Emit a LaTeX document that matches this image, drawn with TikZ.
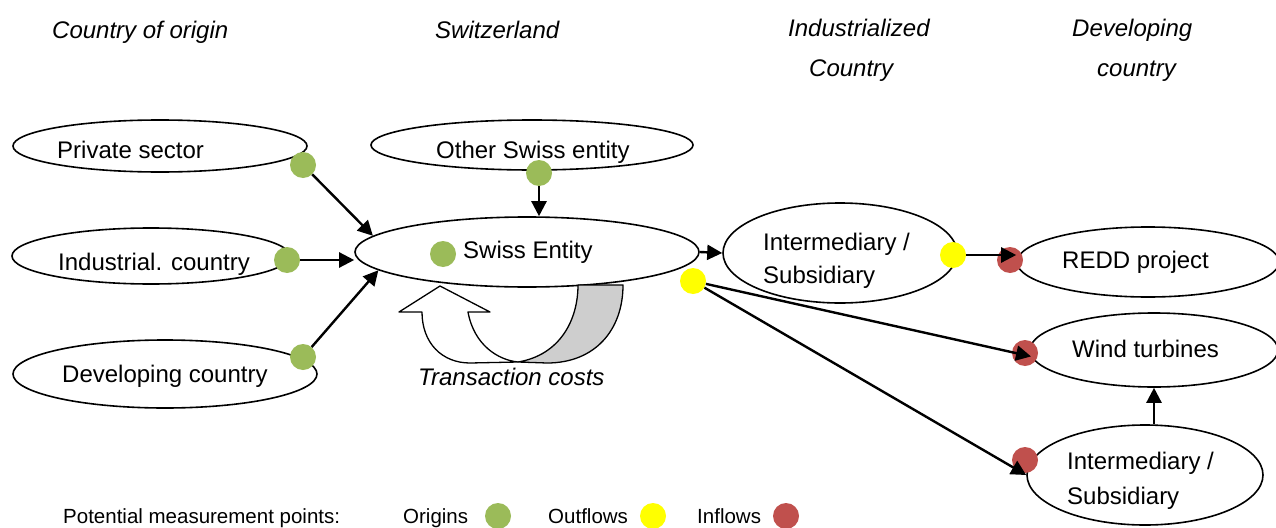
\documentclass[tikz,border=0pt]{standalone}
\usepackage{fontspec}
\setmainfont{Liberation Sans}
\usetikzlibrary{arrows.meta,shapes.geometric}
\definecolor{dotgreen}{RGB}{155,187,89}
\definecolor{dotyellow}{RGB}{255,255,0}
\definecolor{dotred}{RGB}{192,80,77}
\definecolor{tcgrey}{RGB}{206,206,206}
\begin{document}
\begin{tikzpicture}[x=1pt,y=-1pt,
  ell/.style={draw, ellipse, line width=1.6pt, inner sep=0pt, fill=white},
  mdot/.style={circle, inner sep=0pt, minimum size=26pt},
  gdot/.style={mdot, fill=dotgreen},
  ydot/.style={mdot, fill=dotyellow},
  rdot/.style={mdot, fill=dotred},
  lbl/.style={anchor=base west, inner sep=0pt, font=\fontsize{24}{28}\selectfont},
  hd/.style={anchor=base west, inner sep=0pt, font=\fontsize{24}{28}\selectfont\itshape},
  leg/.style={anchor=base west, inner sep=0pt, font=\fontsize{20.5}{24}\selectfont},
  arr/.style={line width=2.4pt, -{Triangle[length=15pt,width=15pt]}},
  tc/.style={draw, line width=1.3pt, line join=round}]
\useasboundingbox (0,0) rectangle (1276,527);

% headings
\node[hd] (h1) at (52,38) {Country of origin};
\node[hd] (h2) at (435,38) {Switzerland};
\node[hd] (h3) at (788,37) {Industrialized};
\node[hd] (h3b) at (809,76) {Country};
\node[hd] (h4) at (1072,37) {Developing};
\node[hd] (h4b) at (1097,76) {country};

% ellipses
\node[ell, minimum width=294pt, minimum height=52pt] (ps) at (160,146) {};
\node[ell, minimum width=278pt, minimum height=56pt] (ic) at (151,256) {};
\node[ell, minimum width=304pt, minimum height=68pt] (dc) at (165,374) {};
\node[ell, minimum width=322pt, minimum height=50pt] (os) at (532,145) {};
\node[ell, minimum width=344pt, minimum height=70pt] (se) at (527,252) {};
\node[ell, minimum width=234pt, minimum height=100pt] (i1) at (840,253) {};
\node[ell, minimum width=262pt, minimum height=70pt] (redd) at (1148,262) {};
\node[ell, minimum width=248pt, minimum height=74pt] (wt) at (1154,350) {};
\node[ell, minimum width=236pt, minimum height=100pt] (i2) at (1145,475) {};

% labels
\node[lbl] (tps) at (57,158) {Private sector};
\node[lbl] (tic) at (58,270) {Industrial. country};
\node[lbl] (tdc) at (62,382) {Developing country};
\node[lbl] (tos) at (436,158) {Other Swiss entity};
\node[lbl] (tse) at (463,258) {Swiss Entity};
\node[lbl] (ti1a) at (763,250) {Intermediary /};
\node[lbl] (ti1b) at (763,283) {Subsidiary};
\node[lbl] (tredd) at (1062,268) {REDD project};
\node[lbl] (twt) at (1072,357) {Wind turbines};
\node[lbl] (ti2a) at (1067,469) {Intermediary /};
\node[lbl] (ti2b) at (1067,504) {Subsidiary};

% transaction costs arrow
\path[tc, fill=white] (399,312) -- (440,286) -- (490,312) -- (468,312)
  .. controls (474,345) and (498,360) .. (518,362) -- (470,363)
  .. controls (442,363) and (422,343) .. (422,312) -- cycle;
\path[tc, fill=tcgrey] (518,362) .. controls (560,355) and (578,320) .. (578,285)
  -- (623,285) .. controls (623,330) and (595,363) .. (547,363) -- cycle;
\node[hd] (ttc) at (418,385) {Transaction costs};

% measurement dots
\node[gdot] (gps) at (303,165) {};
\node[gdot] (gic) at (287,260) {};
\node[gdot] (gdc) at (303,357) {};
\node[gdot] (gos) at (539,173) {};
\node[gdot] (gse) at (443,254) {};
\node[ydot] (y1) at (693,281) {};
\node[ydot] (y2) at (953,255) {};
\node[rdot] (rredd) at (1010,260) {};
\node[rdot] (rwt) at (1025,353) {};
\node[rdot] (ri2) at (1025,460) {};

% connectors
\draw[arr] (gps) -- (se.174);
\draw[arr] (gic.east) -- (gic.east -| se.west);
\draw[arr] (gdc) -- (se.187);
\draw[arr] (gos.south) -- (gos.south |- se.north);
\draw[arr] (se.east) -- (i1.west);
\draw[arr] (y2.east) -- (y2.east -| redd.west);
\draw[arr] (y1) -- (wt.183);
\draw[arr] (y1) -- (i2.west);
\draw[arr] (wt.south |- i2.north) -- (wt.south);

% legend
\node[leg] (lg) at (63,523) {Potential measurement points:};
\node[leg] (lo) at (403,523) {Origins};
\node[gdot] (lgd) at (498,516) {};
\node[leg] (lout) at (548,523) {Outflows};
\node[ydot] (lyd) at (653,516) {};
\node[leg] (lin) at (697,523) {Inflows};
\node[rdot] (lrd) at (786,516) {};
\end{tikzpicture}
\end{document}
